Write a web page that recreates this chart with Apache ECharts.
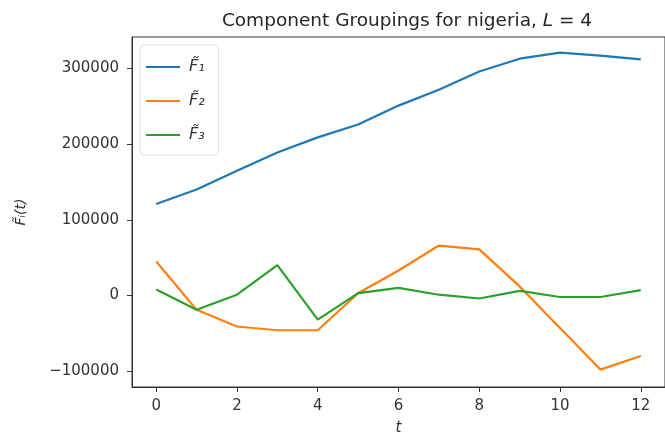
<!DOCTYPE html>
<html>
<head>
<meta charset="utf-8">
<script src="https://cdn.jsdelivr.net/npm/echarts@6/dist/echarts.min.js"></script>
<style>
  html, body { margin: 0; padding: 0; background: #fff; }
  #chart { width: 665px; height: 441px; }
</style>
</head>
<body>
<div id="chart"></div>
<script>
// data
var tValues = [0, 1, 2, 3, 4, 5, 6, 7, 8, 9, 10, 11, 12];
var f1 = [121000, 140000, 165000, 189000, 209000, 226000, 251000, 272000, 296000, 313000, 321000, 317000, 312000];
var f2 = [45000, -19000, -41000, -46000, -46000, 3000, 33000, 66000, 61000, 12000, -43000, -98000, -80000];
var f3 = [8000, -19000, 1000, 40000, -32000, 3000, 10000, 1000, -4000, 6000, -2000, -2000, 7000];
var xTicks = [0, 2, 4, 6, 8, 10, 12];
var yTicks = [-100000, 0, 100000, 200000, 300000];
var names = ['F\u0303\u2081', 'F\u0303\u2082', 'F\u0303\u2083'];

var font = 'DejaVu Sans';

function pairs(vals) {
    return tValues.map(function (t, i) { return [t, vals[i]]; });
}

// matplotlib style: plain digits, real minus sign
function fmt(v) {
    return v < 0 ? '\u2212' + String(-v) : String(v);
}

var chart = echarts.init(document.getElementById('chart'));
var option = {
    animation: false,
    color: ['#1f77b4', '#ff7f0e', '#2ca02c'],
    title: {
        text: 'Component Groupings for nigeria, {i|L} = 4',
        left: 402,
        top: 7,
        textAlign: 'center',
        textStyle: {
            fontFamily: font,
            fontSize: 18.5,
            fontWeight: 'normal',
            color: '#262626',
            rich: {
                i: { fontFamily: font, fontSize: 18.5, fontStyle: 'italic', color: '#262626' }
            }
        }
    },
    grid: {
        left: 132,
        top: 37,
        right: -8,
        bottom: 52,
        show: true,
        borderColor: '#333',
        borderWidth: 1,
        backgroundColor: '#fff'
    },
    legend: {
        orient: 'vertical',
        left: 140,
        top: 45,
        padding: [14, 14, 12, 6],
        icon: 'rect',
        itemWidth: 34,
        itemHeight: 2,
        itemGap: 18,
        backgroundColor: '#fff',
        borderColor: '#ddd',
        borderWidth: 1,
        borderRadius: 4,
        textStyle: { fontFamily: font, fontSize: 16, fontStyle: 'italic', color: '#333', padding: [0, 0, 0, 4] },
        data: names
    },
    xAxis: {
        type: 'value',
        min: -0.6,
        max: 12.6,
        name: 't',
        nameLocation: 'middle',
        nameGap: 34,
        nameTextStyle: { fontFamily: font, fontSize: 15, fontStyle: 'italic', color: '#333' },
        splitLine: { show: false },
        axisLine: { show: true, onZero: false, lineStyle: { color: '#333', width: 1 } },
        axisTick: { show: true, inside: false, length: 5, customValues: xTicks, lineStyle: { color: '#333' } },
        axisLabel: {
            customValues: xTicks,
            margin: 12,
            fontFamily: font,
            fontSize: 15,
            color: '#333',
            formatter: fmt
        }
    },
    yAxis: {
        type: 'value',
        min: -121000,
        max: 341700,
        name: 'F\u0303\u1d62(t)',
        nameLocation: 'middle',
        nameGap: 104,
        nameRotate: 90,
        nameTextStyle: { fontFamily: font, fontSize: 14, fontStyle: 'italic', color: '#333' },
        splitLine: { show: false },
        axisLine: { show: true, onZero: false, lineStyle: { color: '#333', width: 1 } },
        axisTick: { show: true, inside: false, length: 5, customValues: yTicks, lineStyle: { color: '#333' } },
        axisLabel: {
            customValues: yTicks,
            margin: 13,
            fontFamily: font,
            fontSize: 15,
            color: '#333',
            formatter: fmt
        }
    },
    series: [
        { name: names[0], type: 'line', symbol: 'none', lineStyle: { width: 2.2 }, data: pairs(f1) },
        { name: names[1], type: 'line', symbol: 'none', lineStyle: { width: 2.2 }, data: pairs(f2) },
        { name: names[2], type: 'line', symbol: 'none', lineStyle: { width: 2.2 }, data: pairs(f3) }
    ]
};
chart.setOption(option);
</script>
</body>
</html>
